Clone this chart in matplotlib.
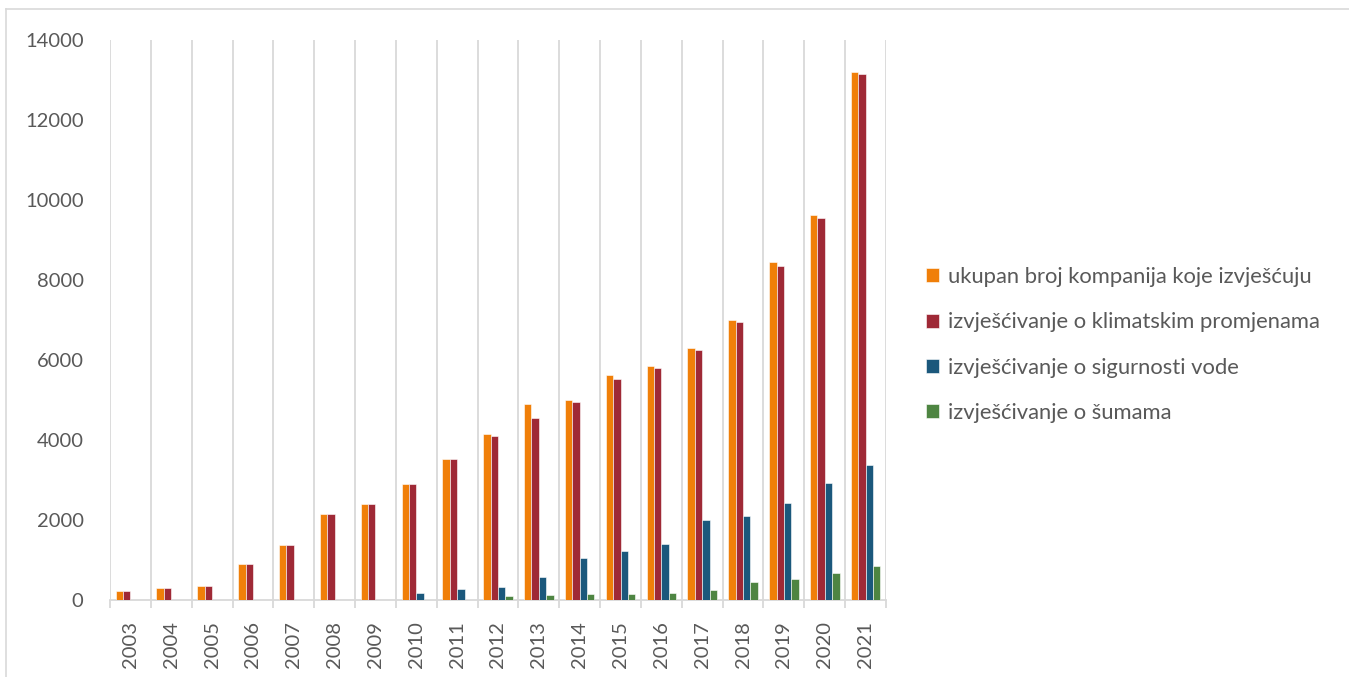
import numpy as np
import matplotlib
matplotlib.use("Agg")
import matplotlib.pyplot as plt
from matplotlib.lines import Line2D

years = ["2003", "2004", "2005", "2006", "2007", "2008", "2009", "2010", "2011", "2012",
         "2013", "2014", "2015", "2016", "2017", "2018", "2019", "2020", "2021"]
ukupno = [220, 290, 340, 905, 1380, 2160, 2390, 2900, 3530, 4140,
          4890, 4990, 5630, 5860, 6310, 7010, 8450, 9630, 13210]
klima = [220, 290, 340, 905, 1380, 2160, 2390, 2890, 3520, 4100,
         4540, 4960, 5530, 5805, 6255, 6940, 8360, 9540, 13150]
voda = [0, 0, 0, 0, 0, 0, 0, 170, 265, 335,
        570, 1055, 1230, 1410, 1990, 2105, 2430, 2920, 3365]
sume = [0, 0, 0, 0, 0, 0, 0, 0, 0, 90,
        120, 145, 162, 187, 255, 446, 537, 680, 855]
labels = ["ukupan broj kompanija koje izvješćuju",
          "izvješćivanje o klimatskim promjenama",
          "izvješćivanje o sigurnosti vode",
          "izvješćivanje o šumama"]
colors = ["#F07F09", "#9F2936", "#1B587C", "#4E8542"]

plt.rcParams["font.family"] = ["Lato", "DejaVu Sans"]
txt = "#595959"
grid = "#D9D9D9"

fig = plt.figure(figsize=(13.49, 6.77), dpi=100)
ax = fig.add_axes([110 / 1349, 1 - 600 / 677, 776 / 1349, 560 / 677])

x = np.arange(len(years))
w = 0.181
series = [ukupno, klima, voda, sume]
for i, (vals, c, lab) in enumerate(zip(series, colors, labels)):
    ax.bar(x + (i - 1.5) * w, vals, w, color=c, label=lab,
           edgecolor="white", linewidth=0.4, zorder=3)

ax.set_xlim(-0.5, len(years) - 0.5)
ax.set_ylim(0, 14000)
ax.set_yticks(range(0, 14001, 2000))
ax.set_xticks(x)
ax.set_xticklabels(years, rotation=90)
ax.set_xticks(np.arange(-0.5, len(years)), minor=True)
ax.grid(True, which="minor", axis="x", color=grid, linewidth=1.3, zorder=0)
ax.tick_params(axis="x", which="major", length=0, pad=15, labelsize=14.5, labelcolor=txt)
ax.tick_params(axis="x", which="minor", length=6, color=grid, width=1.3)
ax.tick_params(axis="y", length=0, pad=19, labelsize=14.5, labelcolor=txt)
for s in ["top", "right", "left"]:
    ax.spines[s].set_visible(False)
ax.spines["bottom"].set_color(grid)
ax.spines["bottom"].set_linewidth(1.3)

leg = fig.legend(loc="center left", bbox_to_anchor=(906 / 1349, 1 - 345 / 677),
                 frameon=False, fontsize=15.8, handlelength=0.6, handleheight=0.6,
                 handletextpad=0.4, labelspacing=1.15)
for t in leg.get_texts():
    t.set_color(txt)

# outer chart border (partially cropped)
fig.add_artist(Line2D([6 / 1349, 6 / 1349], [0, 1 - 9 / 677], color=grid, linewidth=1.2))
fig.add_artist(Line2D([6 / 1349, 1], [1 - 9 / 677, 1 - 9 / 677], color=grid, linewidth=1.2))

fig.savefig("out.png", dpi=100)
